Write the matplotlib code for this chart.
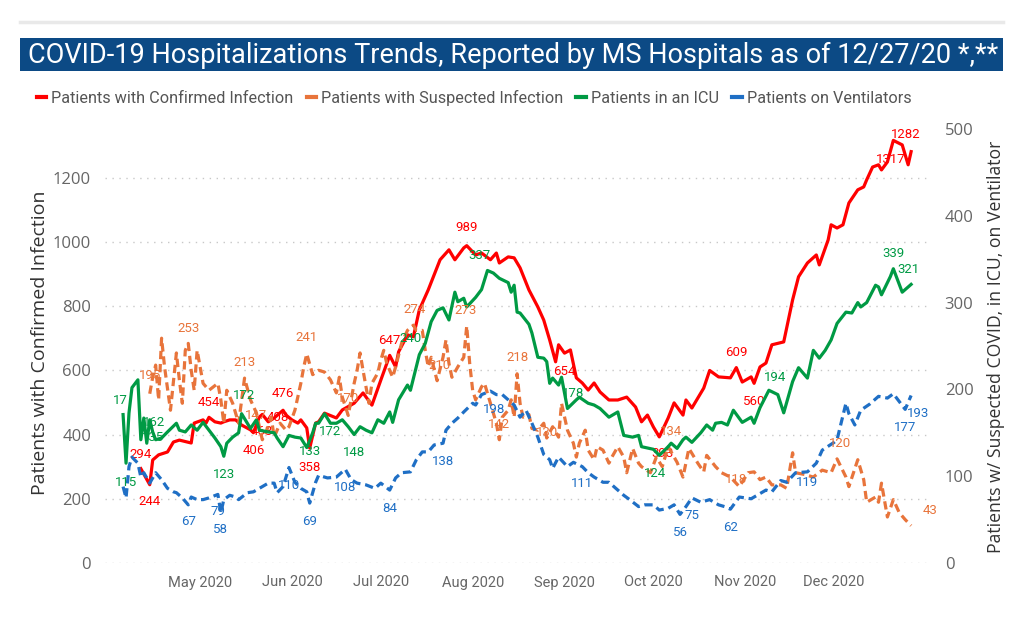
import numpy as np
import matplotlib
matplotlib.use("Agg")
import matplotlib.pyplot as plt
import matplotlib.dates as mdates
from matplotlib.patches import Rectangle
from matplotlib.lines import Line2D

# day offsets from 2020-04-05 and values
START = np.datetime64('2020-04-05')

red_pts = [(6, 294), (9, 244), (10, 321), (12, 337), (15, 346), (17, 377), (19, 383), (23, 374), (24, 436),
           (27, 446), (28, 436), (29, 454), (31, 440), (33, 436), (34, 440), (36, 446), (38, 446), (40, 430),
           (43, 415), (44, 406), (46, 455), (47, 463), (49, 440), (51, 452), (54, 476), (55, 461), (57, 446),
           (59, 436), (60, 446), (62, 421), (63, 358), (65, 436), (66, 440), (68, 467), (72, 452), (74, 477),
           (78, 498), (81, 530), (84, 492), (87, 570), (90, 647), (92, 611), (93, 658), (96, 711), (98, 705),
           (100, 789), (103, 851), (105, 898), (107, 945), (110, 976), (112, 945), (115, 982), (116, 989),
           (119, 960), (121, 966), (124, 945), (126, 966), (127, 935), (130, 954), (132, 951), (134, 920),
           (137, 851), (140, 798), (142, 757), (144, 695), (146, 627), (147, 680), (149, 654), (151, 664),
           (153, 577), (155, 561), (157, 539), (159, 561), (161, 533), (164, 508), (167, 508), (170, 517),
           (173, 486), (175, 440), (177, 461), (179, 424), (181, 393), (184, 452), (186, 499), (189, 461),
           (190, 508), (192, 483), (196, 545), (198, 600), (201, 580), (205, 577), (207, 609), (209, 564),
           (212, 580), (213, 560), (215, 611), (217, 623), (219, 680), (223, 689), (226, 820), (228, 892),
           (231, 935), (234, 960), (235, 929), (238, 1007), (239, 1054), (241, 1044), (243, 1054), (245, 1122),
           (248, 1163), (250, 1172), (251, 1194), (253, 1234), (255, 1241), (256, 1225), (258, 1250),
           (260, 1317), (263, 1303), (265, 1241), (266, 1282)]

orange_pts = [(9, 195), (10, 214), (11, 228), (12, 188), (13, 259), (14, 226), (16, 176), (18, 242), (19, 211),
              (20, 184), (21, 245), (22, 253), (23, 222), (24, 199), (25, 245), (26, 226), (27, 207), (29, 199),
              (32, 207), (33, 188), (34, 161), (35, 199), (37, 184), (39, 161), (41, 213), (43, 188), (45, 173),
              (46, 157), (47, 142), (49, 157), (50, 168), (51, 145), (53, 161), (55, 153), (56, 157), (58, 176),
              (60, 207), (61, 226), (62, 241), (64, 217), (66, 222), (68, 220), (70, 211), (72, 196), (73, 214),
              (74, 191), (76, 170), (78, 207), (79, 222), (80, 242), (81, 222), (82, 203), (83, 184), (84, 207),
              (86, 219), (87, 234), (88, 245), (89, 230), (91, 214), (92, 226), (94, 253), (96, 268), (98, 274),
              (99, 268), (101, 268), (102, 245), (103, 226), (104, 237), (106, 210), (108, 237), (109, 257),
              (110, 230), (111, 214), (113, 226), (115, 237), (116, 273), (117, 230), (118, 199), (119, 188),
              (121, 203), (122, 207), (124, 184), (126, 161), (127, 142), (128, 168), (130, 176), (131, 188),
              (132, 168), (133, 218), (134, 184), (135, 168), (137, 171), (138, 155), (140, 153), (142, 161),
              (143, 144), (145, 157), (147, 145), (148, 184), (150, 153), (152, 138), (153, 122), (154, 138),
              (156, 153), (157, 130), (159, 119), (160, 134), (162, 130), (164, 115), (165, 122), (167, 134),
              (169, 122), (170, 104), (172, 132), (174, 115), (175, 111), (178, 104), (180, 122), (182, 111),
              (184, 134), (187, 116), (189, 99), (191, 132), (194, 115), (196, 105), (197, 124), (200, 111),
              (202, 104), (205, 99), (208, 88), (211, 104), (213, 105), (215, 96), (217, 99), (219, 90),
              (222, 90), (224, 86), (226, 127), (227, 104), (230, 102), (233, 99), (236, 107), (239, 104),
              (241, 120), (244, 99), (245, 88), (248, 119), (250, 96), (251, 70), (254, 76), (255, 70),
              (256, 92), (258, 53), (260, 73), (262, 58), (264, 50), (266, 43)]

green_pts = [(0, 171), (1, 115), (2, 173), (3, 202), (5, 211), (6, 142), (7, 167), (8, 138), (9, 165), (10, 151),
             (11, 142), (13, 144), (15, 151), (18, 161), (19, 153), (21, 151), (23, 159), (25, 153), (27, 162),
             (29, 153), (31, 144), (33, 134), (34, 123), (35, 138), (37, 145), (39, 150), (40, 172), (43, 155),
             (45, 165), (46, 153), (49, 151), (51, 150), (52, 144), (54, 134), (56, 147), (58, 145), (60, 144),
             (62, 133), (64, 150), (65, 161), (66, 161), (68, 172), (70, 161), (72, 161), (74, 165), (76, 157),
             (78, 148), (80, 157), (82, 153), (84, 150), (86, 165), (88, 161), (90, 174), (91, 162), (93, 188),
             (96, 205), (97, 199), (100, 240), (102, 253), (104, 278), (106, 291), (108, 294), (110, 280),
             (112, 312), (113, 301), (115, 305), (116, 295), (119, 306), (121, 315), (123, 337), (125, 334),
             (127, 328), (130, 323), (131, 312), (132, 320), (133, 289), (134, 288), (137, 275), (138, 265),
             (140, 237), (142, 236), (143, 232), (144, 207), (145, 213), (147, 205), (148, 214), (150, 178),
             (153, 188), (154, 191), (157, 184), (159, 182), (161, 178), (164, 168), (167, 174), (169, 147),
             (172, 145), (174, 147), (175, 134), (179, 131), (181, 124), (184, 134), (185, 138), (187, 132),
             (189, 142), (190, 145), (192, 139), (195, 150), (197, 159), (199, 153), (200, 161), (202, 162),
             (204, 159), (206, 176), (209, 162), (212, 168), (213, 161), (215, 179), (218, 199), (221, 194),
             (223, 173), (226, 209), (228, 225), (231, 213), (233, 245), (235, 236), (237, 245), (239, 257),
             (241, 276), (244, 289), (246, 288), (248, 300), (249, 295), (251, 300), (254, 320), (255, 318),
             (256, 309), (258, 323), (259, 330), (260, 339), (263, 312), (266, 321)]

blue_pts = [(0, 88), (1, 75), (2, 111), (3, 122), (5, 115), (6, 99), (7, 104), (9, 92), (11, 104), (13, 96),
            (15, 86), (17, 82), (18, 81), (20, 75), (22, 67), (23, 76), (25, 73), (27, 73), (29, 75), (32, 79),
            (33, 58), (34, 73), (36, 78), (38, 76), (39, 73), (42, 81), (44, 82), (46, 86), (49, 92), (51, 92),
            (52, 81), (54, 88), (56, 110), (58, 93), (60, 86), (62, 82), (63, 69), (65, 93), (66, 101), (69, 98),
            (72, 99), (75, 108), (77, 96), (79, 92), (82, 90), (85, 86), (87, 92), (90, 84), (92, 98), (94, 104),
            (97, 105), (99, 119), (101, 128), (103, 128), (105, 136), (108, 138), (109, 153), (111, 161),
            (113, 167), (115, 174), (118, 184), (119, 182), (121, 194), (124, 198), (126, 194), (128, 194),
            (130, 188), (132, 182), (134, 168), (136, 176), (138, 161), (140, 145), (142, 125), (144, 119),
            (145, 109), (147, 122), (150, 111), (152, 116), (155, 111), (157, 104), (159, 99), (162, 93),
            (164, 93), (167, 84), (169, 78), (171, 73), (174, 65), (176, 67), (179, 67), (181, 61), (184, 63),
            (186, 67), (188, 56), (190, 65), (192, 75), (195, 70), (198, 73), (201, 67), (203, 65), (205, 62),
            (208, 76), (212, 74), (214, 78), (217, 84), (219, 82), (222, 95), (224, 93), (227, 104), (231, 105),
            (234, 115), (236, 130), (240, 139), (241, 142), (244, 184), (245, 172), (247, 159), (249, 176),
            (252, 183), (255, 192), (258, 190), (260, 195), (264, 177), (266, 193)]

# data labels: (day, text, dx, dy) in points
red_labels = [(6, '294', 0, 10), (9, '244', 0, -12), (29, '454', 0, 11), (44, '406', 0, -13), (47, '463', 0, -12),
              (51, '408', 3, 0), (54, '476', 0, 12), (63, '358', 0, -14), (90, '647', 0, 11), (116, '989', 0, 13),
              (149, '654', 0, -13), (181, '393', 2, -12), (207, '609', 0, 11), (213, '560', 0, -13),
              (260, '1317', -2, -14), (266, '1282', -4, 12)]
orange_labels = [(9, '195', 0, 13), (22, '253', 0, 11), (41, '213', 0, 11), (45, '147', 0, -2), (62, '241', 0, 12),
                 (76, '170', 0, 12), (98, '274', 1, 11), (106, '210', 2, 11), (116, '273', -1, 11),
                 (127, '142', 0, 11), (133, '218', 0, 12), (143, '130', 0, 4), (184, '134', 2, 11),
                 (208, '118', -2, 5), (241, '120', 2, 11), (266, '43', 14, 11)]
green_labels = [(0, '17', -2, 10), (1, '115', 0, -14), (9, '162', 3, -2), (10, '135', 0, -4), (34, '123', 0, -13),
                (40, '172', 2, 13), (62, '133', 2, -3), (68, '172', 4, -13), (78, '148', 0, -13),
                (100, '240', -6, 12), (123, '337', -6, 11), (150, '178', 4, 11), (181, '124', -3, -13),
                (221, '194', -2, 12), (260, '339', 0, 11), (266, '321', -2, 11)]
blue_labels = [(22, '67', 0, -12), (32, '79', 0, -12), (33, '58', 0, -12), (56, '110', 0, -13), (63, '69', 0, -13),
               (75, '108', 0, -13), (90, '84', 0, -13), (108, '138', 0, -13), (124, '198', 3, -13),
               (155, '111', 0, -12), (188, '56', 0, -13), (192, '75', 0, -13), (205, '62', 0, -13),
               (231, '119', 0, -8), (264, '177', 0, -13), (266, '193', 5, -13)]

month_ticks = ['2020-05-01', '2020-06-01', '2020-07-01', '2020-08-01',
               '2020-09-01', '2020-10-01', '2020-11-01', '2020-12-01']

RED = '#FF0000'
ORANGE = '#E8743B'
GREEN = '#009A44'
BLUE = '#1F6FC5'
LABEL_FONT = ['Roboto', 'DejaVu Sans']
TICK_FONT = ['Open Sans', 'DejaVu Sans']

def split(pts):
    d = np.array([p[0] for p in pts])
    v = np.array([p[1] for p in pts], dtype=float)
    return START + d.astype('timedelta64[D]'), v, dict(zip(d.tolist(), v.tolist()))

fig = plt.figure(figsize=(10.23, 6.42), dpi=100)

# header rule and title bar
fig.add_artist(Line2D([20 / 1023, 1003 / 1023], [1 - 22 / 642] * 2, color='#E9E9E9', lw=2.5))
fig.add_artist(Rectangle((20 / 1023, 1 - 71 / 642), 983 / 1023, 33 / 642, color='#0C4A85', lw=0))
fig.text(28 / 1023, 1 - 55 / 642, 'COVID-19 Hospitalizations Trends, Reported by MS Hospitals as of 12/27/20 *,**',
         color='white', fontsize=19.5, va='center', ha='left', family=['Roboto', 'DejaVu Sans'])

ax = fig.add_axes([105 / 1023, 1 - 563 / 642, 823 / 1023, 438 / 642])
ax2 = ax.twinx()

series = [
    (ax, red_pts, red_labels, RED, '-'),
    (ax2, orange_pts, orange_labels, ORANGE, '--'),
    (ax2, green_pts, green_labels, GREEN, '-'),
    (ax2, blue_pts, blue_labels, BLUE, '--'),
]
for a, pts, labels, col, ls in series:
    x, y, lookup = split(pts)
    if ls == '--':
        a.plot(x, y, color=col, lw=2.3, dashes=(2.6, 1.5))
    else:
        a.plot(x, y, color=col, lw=2.3)
    for day, txt, dx, dy in labels:
        a.annotate(txt, (START + np.timedelta64(day, 'D'), lookup[day]), xytext=(dx, dy),
                   textcoords='offset points', ha='center', va='center', color=col,
                   fontsize=9.5, family=LABEL_FONT)

x0 = mdates.date2num(START) - 6.1
ax.set_xlim(x0, x0 + 277.8)
ax.set_ylim(0, 1365)
ax2.set_ylim(0, 504.6)
ax.set_yticks(range(0, 1201, 200))
ax2.set_yticks(range(0, 501, 100))
ax.set_xticks([mdates.date2num(np.datetime64(m)) for m in month_ticks])
ax.xaxis.set_major_formatter(mdates.DateFormatter('%b %Y'))

ax.grid(axis='y', color='#C8C8C8', lw=1, ls=(0, (1, 4)))
for a in (ax, ax2):
    for s in a.spines.values():
        s.set_visible(False)
    a.tick_params(length=0, colors='#666666', labelsize=12)
ax.tick_params(axis='y', pad=10)
ax2.tick_params(axis='y', pad=12)
ax.tick_params(axis='x', pad=9, labelsize=10.5)
for t in ax.get_xticklabels():
    t.set_family(LABEL_FONT)
for t in ax.get_yticklabels() + ax2.get_yticklabels():
    t.set_family(TICK_FONT)

ax.set_ylabel('Patients with Confirmed Infection', fontsize=14, color='#333333', family=TICK_FONT)
ax.yaxis.set_label_coords(-0.068, 0.502)
ax2.set_ylabel('Patients w/ Suspected COVID, in ICU, on Ventilator', fontsize=12.7, color='#333333',
               family=TICK_FONT)
ax2.yaxis.set_label_coords(1.072, 0.493)

handles = [Line2D([], [], color=c, lw=3) for c in (RED, ORANGE, GREEN, BLUE)]
names = ['Patients with Confirmed Infection', 'Patients with Suspected Infection',
         'Patients in an ICU', 'Patients on Ventilators']
fig.legend(handles, names, loc='center left', bbox_to_anchor=(22 / 1023, 1 - 98 / 642), ncol=4,
           frameon=False, handlelength=0.6, handletextpad=0.3, columnspacing=0.8,
           prop={'family': LABEL_FONT, 'size': 11.7}, labelcolor='#555555')

fig.savefig('out.png', dpi=100)
